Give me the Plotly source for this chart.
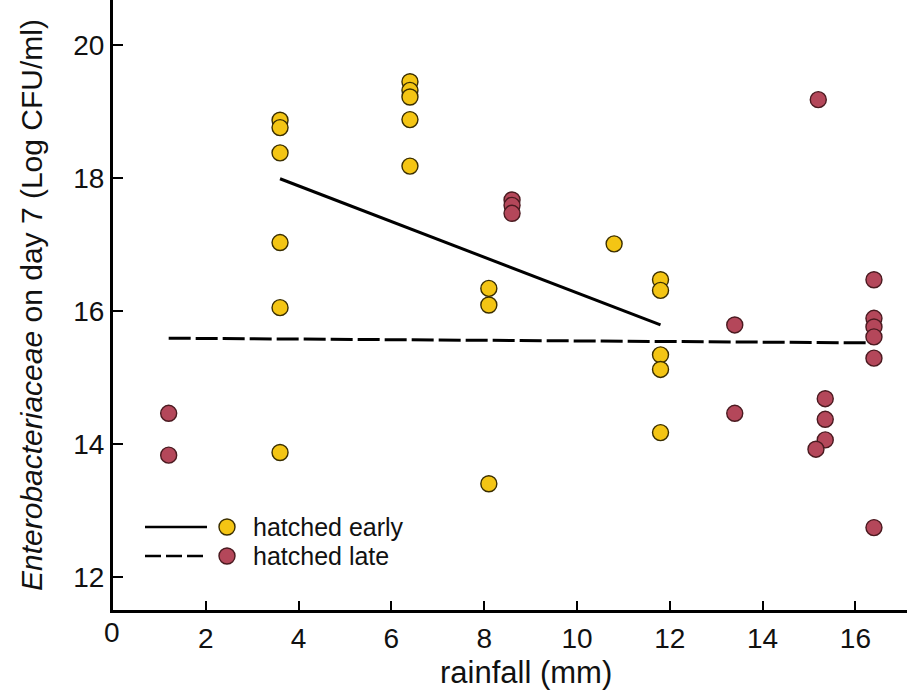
import plotly.graph_objects as go

# ---- data ----
early_x = [3.6, 3.6, 3.6, 3.6, 3.6, 3.6,
           6.4, 6.4, 6.4, 6.4, 6.4,
           8.1, 8.1, 8.1,
           10.8,
           11.8, 11.8, 11.8, 11.8, 11.8]
early_y = [18.87, 18.76, 18.38, 17.03, 16.05, 13.87,
           19.45, 19.32, 19.22, 18.88, 18.18,
           16.34, 16.09, 13.40,
           17.01,
           16.47, 16.31, 15.34, 15.12, 14.17]

late_x = [1.2, 1.2,
          8.6, 8.6, 8.6,
          13.4, 13.4,
          15.2, 15.35, 15.35, 15.35, 15.15,
          16.4, 16.4, 16.4, 16.4, 16.4, 16.4]
late_y = [14.46, 13.83,
          17.67, 17.59, 17.47,
          15.79, 14.46,
          19.18, 14.68, 14.37, 14.06, 13.92,
          16.47, 15.89, 15.76, 15.61, 15.29, 12.74]

fit_early_x = [3.6, 11.8]
fit_early_y = [17.99, 15.79]
fit_late_x = [1.2, 16.4]
fit_late_y = [15.59, 15.52]

x_ticks = [0, 2, 4, 6, 8, 10, 12, 14, 16]
y_ticks = [12, 14, 16, 18, 20]

legend_labels = ["hatched early", "hatched late"]

# ---- styles ----
YELLOW = "#F4C514"
YELLOW_EDGE = "#3a2e00"
RED = "#B4475A"
RED_EDGE = "#4a1a20"
FONT = "Liberation Sans, Arial, sans-serif"

fig = go.Figure()

fig.add_trace(go.Scatter(x=fit_early_x, y=fit_early_y, mode="lines",
                         line=dict(color="black", width=3), showlegend=False,
                         hoverinfo="skip"))
fig.add_trace(go.Scatter(x=fit_late_x, y=fit_late_y, mode="lines",
                         line=dict(color="black", width=3, dash="22px,5px"),
                         showlegend=False, hoverinfo="skip"))
fig.add_trace(go.Scatter(x=early_x, y=early_y, mode="markers", name=legend_labels[0],
                         marker=dict(size=16, color=YELLOW,
                                     line=dict(color=YELLOW_EDGE, width=1.4)),
                         showlegend=False))
fig.add_trace(go.Scatter(x=late_x, y=late_y, mode="markers", name=legend_labels[1],
                         marker=dict(size=16, color=RED,
                                     line=dict(color=RED_EDGE, width=1.4)),
                         showlegend=False))

# plot-area geometry (pixels) used only to place decorations
L, R, T, B = 113, 0, 0, 88
W, H = 907 - L - R, 698 - T - B


def px(xp):
    return (xp - L) / W


def py(yp):
    return (H + T - yp) / H


shapes = []
annotations = []
legend_rows = [(527, "solid", YELLOW, YELLOW_EDGE), (556, "16px,5px", RED, RED_EDGE)]
for (yrow, dash, fill, edge), label in zip(legend_rows, legend_labels):
    shapes.append(dict(type="line", xref="paper", yref="paper",
                       x0=px(145), x1=px(207), y0=py(yrow), y1=py(yrow),
                       line=dict(color="black", width=2.5, dash=dash)))
    shapes.append(dict(type="circle", xref="paper", yref="paper",
                       xsizemode="pixel", ysizemode="pixel",
                       xanchor=px(227), yanchor=py(yrow),
                       x0=-8, x1=8, y0=-8, y1=8,
                       fillcolor=fill, line=dict(color=edge, width=1.4)))
    annotations.append(dict(xref="paper", yref="paper", x=px(251), y=py(yrow),
                            xanchor="left", yanchor="middle", showarrow=False,
                            text=label, font=dict(family=FONT, size=25, color="#111")))

# axis titles
annotations.append(dict(xref="paper", yref="paper", x=px(526), y=py(672),
                        xanchor="center", yanchor="middle", showarrow=False,
                        text="rainfall (mm)", font=dict(family=FONT, size=31, color="#111")))
annotations.append(dict(xref="paper", yref="paper", x=px(31), y=py(593),
                        xanchor="center", yanchor="bottom", showarrow=False,
                        textangle=-90,
                        text="<i>Enterobacteriaceae</i> on day 7 (Log CFU/ml)",
                        font=dict(family=FONT, size=30, color="#111")))

fig.update_layout(
    width=907, height=698,
    margin=dict(l=L, r=R, t=T, b=B),
    paper_bgcolor="white", plot_bgcolor="white",
    showlegend=False,
    shapes=shapes, annotations=annotations,
    font=dict(family=FONT, color="#111"),
)
fig.update_xaxes(range=[0, (907 - L) / 46.4], tickvals=x_ticks[1:],
                 ticktext=[str(v) for v in x_ticks[1:]],
                 showgrid=False, zeroline=False,
                 showline=True, linecolor="black", linewidth=3,
                 ticks="inside", ticklen=9, tickwidth=1.5, tickcolor="black",
                 tickfont=dict(size=28, family=FONT, color="#111"),
                 ticklabelstandoff=1)
fig.add_annotation(xref="paper", yref="paper", x=px(112), y=py(632),
                   xanchor="center", yanchor="middle", showarrow=False,
                   text=str(x_ticks[0]), font=dict(family=FONT, size=28, color="#111"))
fig.update_yaxes(range=[11.5, 20.68], tickvals=y_ticks,
                 showgrid=False, zeroline=False,
                 showline=True, linecolor="black", linewidth=3,
                 ticks="inside", ticklen=10, tickwidth=1.5, tickcolor="black",
                 tickfont=dict(size=28, family=FONT, color="#111"),
                 ticklabelstandoff=0)

fig.write_html("out.html")
